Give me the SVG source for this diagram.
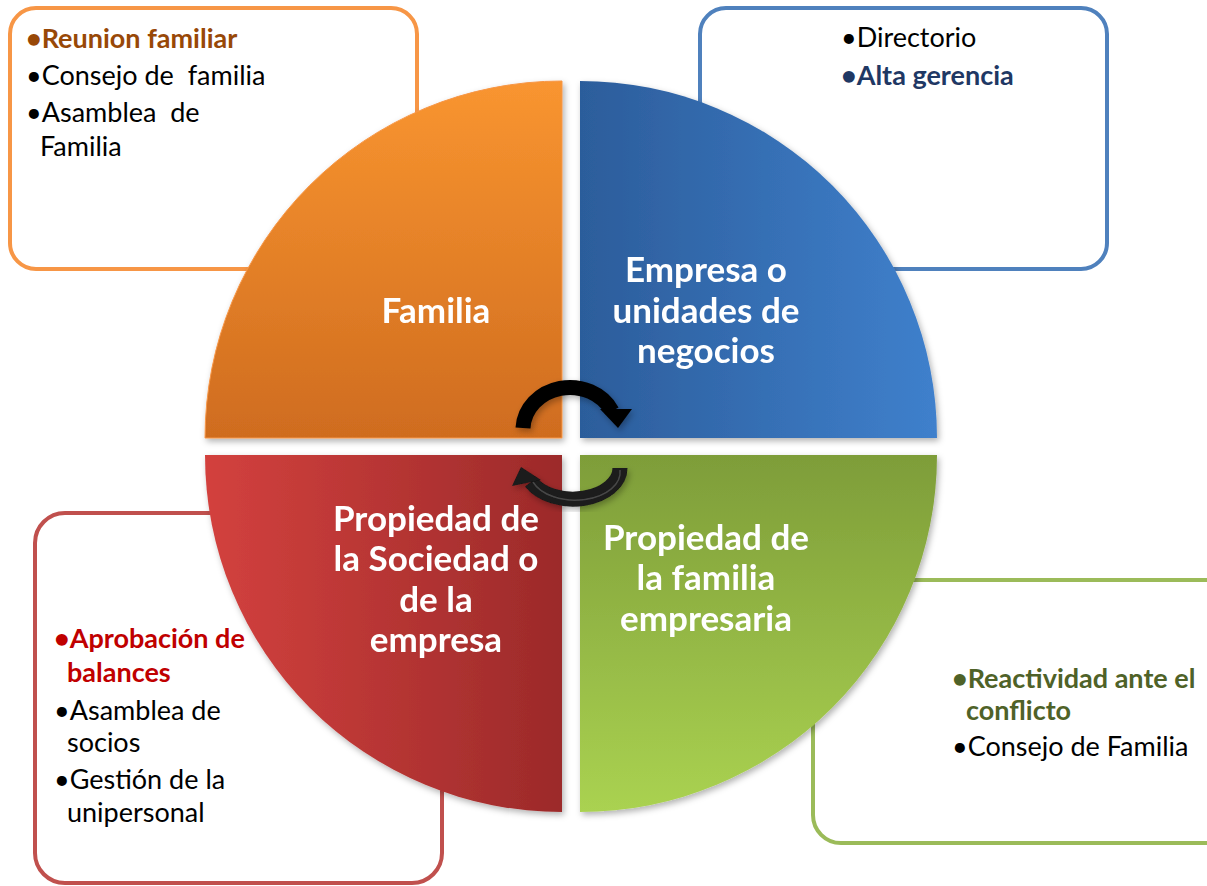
<svg xmlns="http://www.w3.org/2000/svg" width="1207" height="886" viewBox="0 0 1207 886">
  <defs>
    <linearGradient id="gOrange" x1="0" y1="0" x2="0" y2="1">
      <stop offset="0" stop-color="#F99530"/>
      <stop offset="1" stop-color="#CF6C1F"/>
    </linearGradient>
    <linearGradient id="gBlue" x1="0" y1="0" x2="1" y2="0">
      <stop offset="0" stop-color="#2C5D9B"/>
      <stop offset="1" stop-color="#3F80CC"/>
    </linearGradient>
    <linearGradient id="gRed" x1="0" y1="0" x2="1" y2="0">
      <stop offset="0" stop-color="#D3413E"/>
      <stop offset="1" stop-color="#9C2A2A"/>
    </linearGradient>
    <linearGradient id="gGreen" x1="0" y1="0" x2="0" y2="1">
      <stop offset="0" stop-color="#7E9D39"/>
      <stop offset="1" stop-color="#AAD251"/>
    </linearGradient>
    <filter id="shadow" x="-10%" y="-10%" width="120%" height="120%">
      <feDropShadow dx="2" dy="3" stdDeviation="3" flood-color="#000" flood-opacity="0.3"/>
    </filter>
    <style>
      .box { fill: #FFFFFF; stroke-width: 4; }
      .txt { font-family: Lato, "Liberation Sans", sans-serif; font-size: 27px; fill: #000; white-space: pre; }
      .b { font-weight: bold; }
      .brown { fill: #984807; }
      .navy { fill: #1F3864; }
      .red { fill: #C00000; }
      .olive { fill: #4F6228; }
      .lbl { font-family: Lato, "Liberation Sans", sans-serif; font-size: 35px; font-weight: bold; fill: #FFFFFF; text-anchor: middle; }
      .arrow { fill: none; stroke-width: 15; }
    </style>
  </defs>
  <rect width="1207" height="886" fill="#FFFFFF"/>

  <g id="box-familia">
    <rect class="box" x="10" y="8" width="407" height="261" rx="26" stroke="#F79646"/>
    <text class="txt b brown" x="26" y="48">•Reunion familiar</text>
    <text class="txt" x="26" y="85" xml:space="preserve">•Consejo de  familia</text>
    <text class="txt" x="26" y="122" xml:space="preserve">•Asamblea  de</text>
    <text class="txt" x="40" y="156">Familia</text>
  </g>

  <g id="box-empresa">
    <rect class="box" x="700" y="8" width="407" height="261" rx="26" stroke="#4F81BD"/>
    <text class="txt" x="841" y="47">•Directorio</text>
    <text class="txt b navy" x="841" y="85">•Alta gerencia</text>
  </g>

  <g id="box-sociedad">
    <rect class="box" x="35" y="513" width="407" height="370" rx="30" stroke="#C0504D"/>
    <text class="txt b red" x="54" y="648">•Aprobación de</text>
    <text class="txt b red" x="67" y="682">balances</text>
    <text class="txt" x="54" y="720">•Asamblea de</text>
    <text class="txt" x="67" y="752">socios</text>
    <text class="txt" x="54" y="789">•Gestión de la</text>
    <text class="txt" x="67" y="822">unipersonal</text>
  </g>

  <g id="box-propiedad">
    <rect class="box" x="813" y="580" width="420" height="263" rx="28" stroke="#9BBB59"/>
    <text class="txt b olive" x="952" y="688">•Reactividad ante el</text>
    <text class="txt b olive" x="966" y="720">conflicto</text>
    <text class="txt" x="952" y="756">•Consejo de Familia</text>
  </g>

  <g id="q-familia" filter="url(#shadow)">
    <path d="M562,438 L205,438 A357,357 0 0 1 562,81 Z" fill="url(#gOrange)" stroke="#F79646" stroke-width="1"/>
    <text class="lbl" x="436" y="323">Familia</text>
  </g>

  <g id="q-empresa" filter="url(#shadow)">
    <path d="M580,438 L580,81 A357,357 0 0 1 937,438 Z" fill="url(#gBlue)"/>
    <text class="lbl" x="706" y="282">Empresa o</text>
    <text class="lbl" x="706" y="323">unidades de</text>
    <text class="lbl" x="706" y="363">negocios</text>
  </g>

  <g id="q-sociedad" filter="url(#shadow)">
    <path d="M562,455 L562,812 A357,357 0 0 1 205,455 Z" fill="url(#gRed)"/>
    <text class="lbl" x="436" y="531">Propiedad de</text>
    <text class="lbl" x="436" y="571">la Sociedad o</text>
    <text class="lbl" x="436" y="612">de la</text>
    <text class="lbl" x="436" y="652">empresa</text>
  </g>

  <g id="q-propiedad" filter="url(#shadow)">
    <path d="M580,455 L937,455 A357,357 0 0 1 580,812 Z" fill="url(#gGreen)"/>
    <text class="lbl" x="706" y="550">Propiedad de</text>
    <text class="lbl" x="706" y="590">la familia</text>
    <text class="lbl" x="706" y="631">empresaria</text>
  </g>

  <g id="connectors" filter="url(#shadow)">
    <path class="arrow" d="M523,428 A47,42.5 0 0 1 612,411" stroke="#000000"/>
    <polygon points="600,409 632,409 618,428" fill="#000000"/>
    <path class="arrow" d="M620,468 A47,31 0 0 1 531,482" stroke="#1A1A1A" stroke-width="13"/>
    <path d="M620,470 A45,28 0 0 1 533,482" fill="none" stroke="#666" stroke-width="1.5" opacity="0.6"/>
    <polygon points="521,467 512,486 541,480" fill="#1A1A1A"/>
  </g>
</svg>
